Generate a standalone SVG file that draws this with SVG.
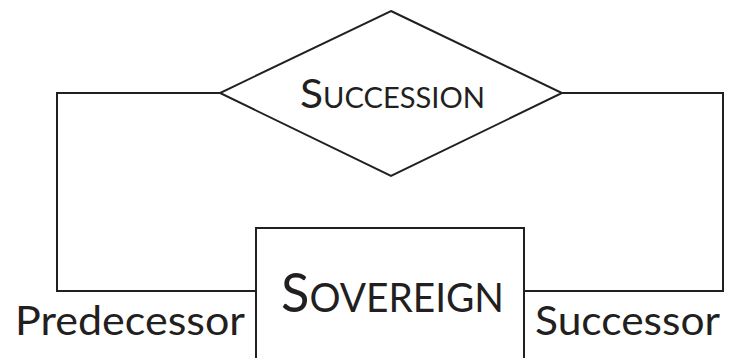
<svg xmlns="http://www.w3.org/2000/svg" width="729" height="358" viewBox="0 0 729 358">
<style>
.ln{fill:none;stroke:#231f20;stroke-width:2;}
.shape{fill:#fff;stroke:#231f20;stroke-width:2;}
text{font-family:Lato,"Open Sans","Liberation Sans",sans-serif;fill:#231f20;}
</style>
<rect width="729" height="358" fill="#fff"/>
<g id="connectors">
<polyline class="ln" points="220,93 57,93 57,291 256,291"/>
<polyline class="ln" points="562,93 723,93 723,291 524,291"/>
</g>
<g id="succession">
<polygon class="shape" points="391,11 562,93 391,176 220,93"/>
<text x="300" y="108" font-size="28" textLength="185" lengthAdjust="spacingAndGlyphs"><tspan font-size="41">S</tspan>UCCESSION</text>
</g>
<g id="sovereign">
<rect class="shape" x="256" y="228" width="268" height="140"/>
<text x="281" y="312" font-size="40" textLength="223" lengthAdjust="spacingAndGlyphs"><tspan font-size="54">S</tspan>OVEREIGN</text>
</g>
<g id="labels">
<text x="15" y="335" font-size="40" textLength="230" lengthAdjust="spacingAndGlyphs">Predecessor</text>
<text x="535" y="335" font-size="40" textLength="185" lengthAdjust="spacingAndGlyphs">Successor</text>
</g>
</svg>
